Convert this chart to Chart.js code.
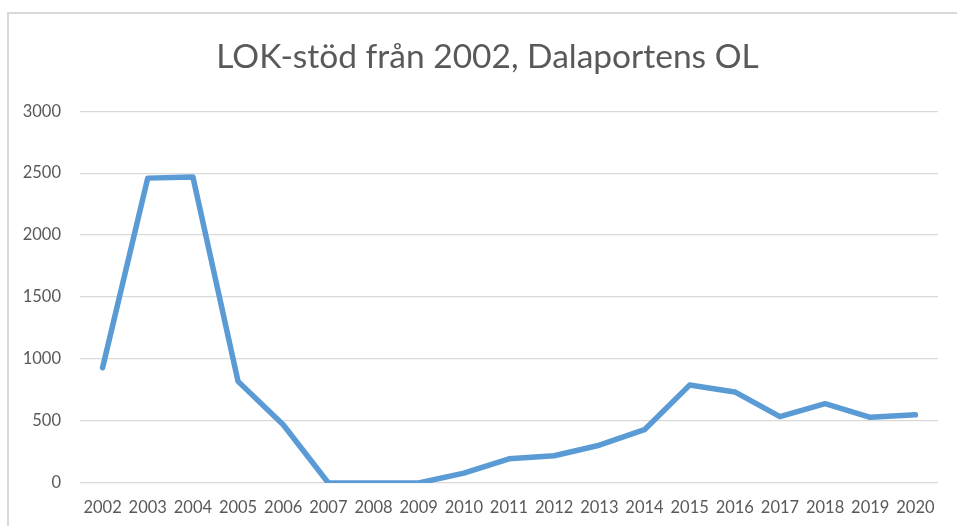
<!DOCTYPE html>
<html>
<head>
<meta charset="utf-8">
<script src="https://cdn.jsdelivr.net/npm/chart.js@4"></script>
<style>
  html, body { margin: 0; padding: 0; background: #fff; }
  #wrap { position: relative; width: 957px; height: 526px; overflow: hidden; }
  #ram { position: absolute; left: 7px; top: 12px; width: 960px; height: 530px;
         border-left: 2px solid #d9d9d9; border-top: 2px solid #d9d9d9; }
  canvas { position: absolute; left: 0; top: 0; }
</style>
</head>
<body>
<div id="wrap">
  <div id="ram"></div>
  <canvas id="myChart" width="957" height="526"></canvas>
</div>
<script>
// data
const ar = ['2002', '2003', '2004', '2005', '2006', '2007', '2008', '2009', '2010', '2011',
            '2012', '2013', '2014', '2015', '2016', '2017', '2018', '2019', '2020'];
const lokStod = [930, 2460, 2470, 820, 470, 0, 0, 0, 80, 195,
                 220, 305, 430, 790, 735, 535, 640, 530, 550];
const yTicks = [0, 500, 1000, 1500, 2000, 2500, 3000];
const rubrik = 'LOK-stöd från 2002, Dalaportens OL';

const gra = '#595959';
const font = 'Lato, "Open Sans", sans-serif';

const ctx = document.getElementById('myChart').getContext('2d');
const myChart = new Chart(ctx, {
  type: 'line',
  data: {
    labels: ar,
    datasets: [{
      label: 'LOK-stöd',
      data: lokStod,
      borderColor: '#5b9bd5',
      borderWidth: 5.5,
      borderCapStyle: 'round',
      borderJoinStyle: 'round',
      pointRadius: 0,
      tension: 0,
      fill: false
    }]
  },
  options: {
    responsive: false,
    animation: false,
    // vänster padding så att rubriken hamnar mitt i ramen
    layout: { padding: { top: 0, left: 18, right: 0, bottom: 0 } },
    plugins: {
      legend: { display: false },
      tooltip: { enabled: false },
      title: {
        display: true,
        text: rubrik,
        color: gra,
        font: { family: font, size: 33.5, weight: 'normal' },
        padding: { top: 37, bottom: 34 }
      }
    },
    scales: {
      x: {
        offset: true,
        grid: { display: false, drawTicks: false },
        border: { display: false },
        ticks: { color: gra, font: { family: font, size: 16.5 }, padding: 15, maxRotation: 0, autoSkip: false },
        afterFit: (s) => { s.height = 43; }
      },
      y: {
        min: 0,
        max: 3000,
        afterBuildTicks: (s) => { s.ticks = yTicks.map(v => ({ value: v })); },
        grid: { color: '#d9d9d9', lineWidth: 1.3, drawTicks: false },
        border: { display: false },
        ticks: { color: gra, font: { family: font, size: 16.5 }, padding: 19, callback: (v) => String(v) },
        afterFit: (s) => { s.width = 62; }
      },
      // tom axel till höger, bara för marginalen
      hoger: {
        position: 'right',
        grid: { display: false, drawTicks: false },
        border: { display: false },
        ticks: { display: false },
        afterFit: (s) => { s.width = 19; }
      }
    }
  }
});
</script>
</body>
</html>
